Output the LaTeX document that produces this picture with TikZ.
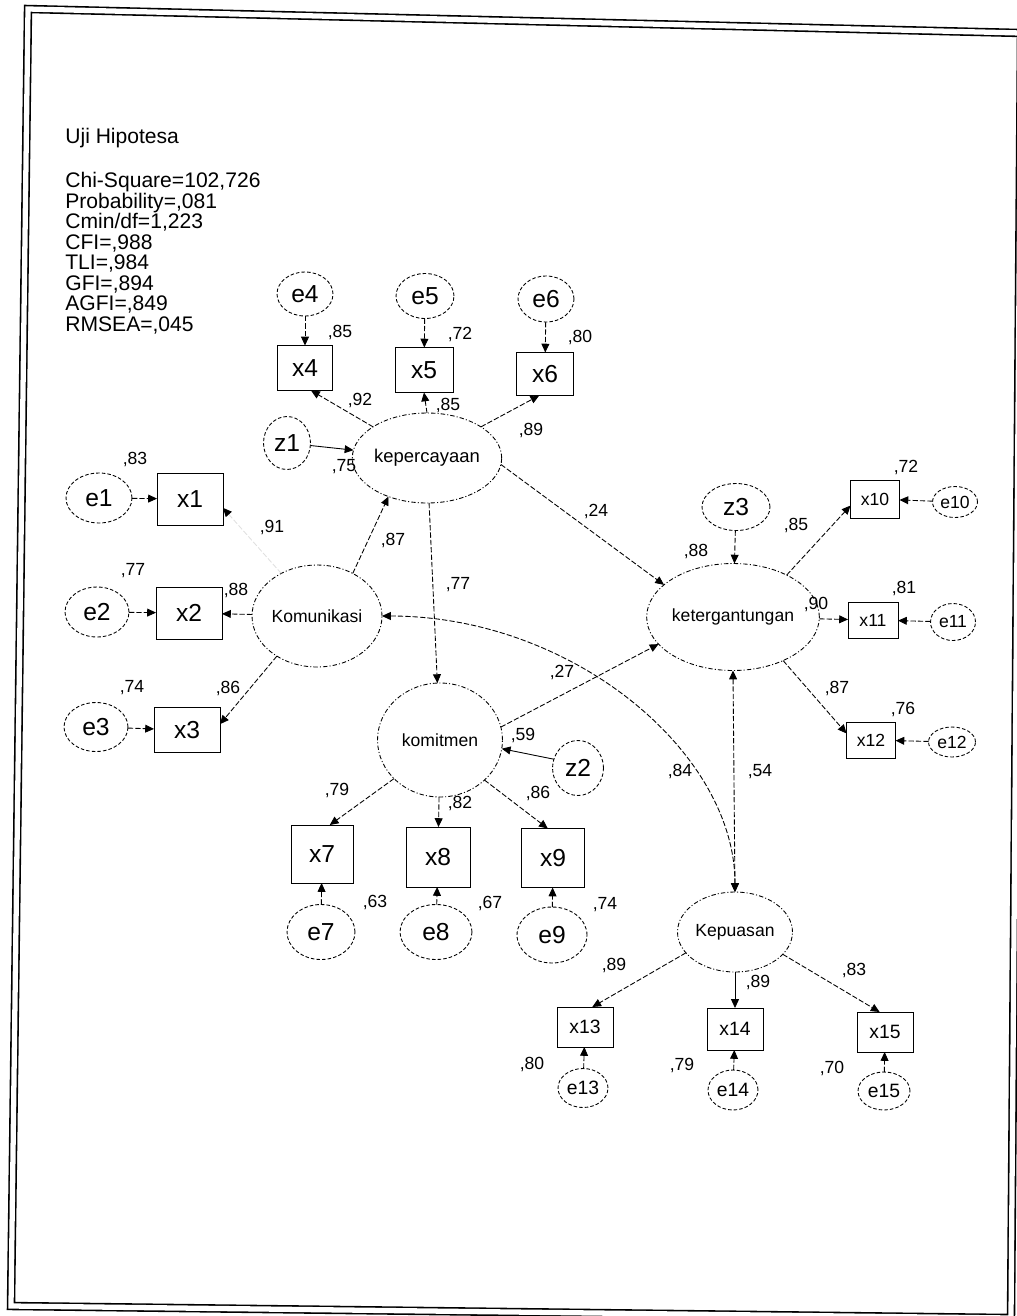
\documentclass[tikz,border=0pt]{standalone}
\usepackage{fontspec}
\setmainfont{Liberation Sans}
\usetikzlibrary{arrows.meta, shapes.geometric}

\begin{document}
\begin{tikzpicture}[
  x=0.02cm, y=-0.02cm,
  errnode/.style={ellipse, draw, line width=0.5pt, dash pattern=on 2pt off 1.2pt, inner sep=0pt, outer sep=0pt, font=\fontsize{14}{16}\selectfont},
  latent/.style={ellipse, draw, line width=0.5pt, dash pattern=on 2.5pt off 1.2pt on 0.6pt off 1.2pt, inner sep=0pt, outer sep=0pt, font=\fontsize{10}{12}\selectfont},
  obsbox/.style={rectangle, draw, line width=0.55pt, inner sep=0pt, outer sep=0pt, font=\fontsize{14}{16}\selectfont},
  smalltxt/.style={font=\fontsize{10}{12}\selectfont},
  midtxt/.style={font=\fontsize{11}{13}\selectfont},
  coef/.style={inner sep=0pt, font=\fontsize{10}{12}\selectfont},
  link/.style={-{Triangle[length=5pt,width=4.5pt]}, line width=0.5pt, dash pattern=on 3pt off 1.2pt},
  linkS/.style={-{Triangle[length=5pt,width=4.5pt]}, line width=0.5pt},
  corr/.style={{Triangle[length=5pt,width=4.5pt]}-{Triangle[length=5pt,width=4.5pt]}, line width=0.5pt, dash pattern=on 3pt off 1.2pt}
]
  \useasboundingbox (0,0) rectangle (1017,1316);

  % scanned double frame, slightly skewed like the page
  \draw[double, double distance=3pt, line width=0.9pt] (28,9) -- (1021,33) -- (1011,1318) -- (11,1306) -- cycle;

  % fit summary in the upper left corner
  \node[anchor=base west, inner sep=0pt, font=\fontsize{12}{14}\selectfont] (title) at (65,143) {Uji Hipotesa};
  \node[anchor=north west, align=left, inner sep=0pt, font=\fontsize{12}{11.7}\selectfont] (fitidx) at (65,172) {Chi-Square=102,726\\Probability=,081\\Cmin/df=1,223\\CFI=,988\\TLI=,984\\GFI=,894\\AGFI=,849\\RMSEA=,045};

  % latent variables
  \node[latent, minimum width=2.32cm, minimum height=1.8cm, font=\fontsize{10.5}{12}\selectfont] (kper) at (427,458) {kepercayaan};
  \node[latent, minimum width=2.6cm, minimum height=2.04cm] (kom) at (317,616) {Komunikasi};
  \node[latent, minimum width=2.5cm, minimum height=2.28cm] (komit) at (440,740) {komitmen};
  \node[latent, minimum width=3.2cm, minimum height=2.14cm] (keter) at (733,617) {ketergantungan};
  \node[latent, minimum width=2.3cm, minimum height=1.6cm] (kepu) at (735,932) {Kepuasan};

  % disturbances
  \node[errnode, minimum width=0.94cm, minimum height=1.06cm] (z1) at (287,443) {z1};
  \node[errnode, minimum width=1.02cm, minimum height=1.1cm] (z2) at (578,768) {z2};
  \node[errnode, minimum width=1.36cm, minimum height=0.94cm] (z3) at (736,507) {z3};

  % indicators of kepercayaan
  \node[errnode, minimum width=1.12cm, minimum height=0.88cm] (e4) at (305,294) {e4};
  \node[errnode, minimum width=1.16cm, minimum height=0.9cm] (e5) at (425,296) {e5};
  \node[errnode, minimum width=1.12cm, minimum height=0.92cm] (e6) at (546,299) {e6};
  \node[obsbox, minimum width=1.1cm, minimum height=0.9cm] (x4) at (305,368) {x4};
  \node[obsbox, minimum width=1.16cm, minimum height=0.9cm] (x5) at (424,370) {x5};
  \node[obsbox, minimum width=1.14cm, minimum height=0.86cm] (x6) at (545,374) {x6};

  % indicators of Komunikasi
  \node[errnode, minimum width=1.32cm, minimum height=1.0cm] (e1) at (99,498) {e1};
  \node[errnode, minimum width=1.28cm, minimum height=1.0cm] (e2) at (97,612) {e2};
  \node[errnode, minimum width=1.28cm, minimum height=0.98cm] (e3) at (96,727) {e3};
  \node[obsbox, minimum width=1.32cm, minimum height=1.04cm] (x1) at (190,499) {x1};
  \node[obsbox, minimum width=1.32cm, minimum height=1.04cm] (x2) at (189,613) {x2};
  \node[obsbox, minimum width=1.32cm, minimum height=0.9cm] (x3) at (187,730) {x3};

  % indicators of komitmen
  \node[obsbox, minimum width=1.24cm, minimum height=1.16cm] (x7) at (322,854) {x7};
  \node[obsbox, minimum width=1.28cm, minimum height=1.2cm] (x8) at (438,857) {x8};
  \node[obsbox, minimum width=1.26cm, minimum height=1.18cm] (x9) at (553,858) {x9};
  \node[errnode, minimum width=1.36cm, minimum height=1.1cm] (e7) at (321,932) {e7};
  \node[errnode, minimum width=1.44cm, minimum height=1.1cm] (e8) at (436,932) {e8};
  \node[errnode, minimum width=1.4cm, minimum height=1.12cm] (e9) at (552,935) {e9};

  % indicators of ketergantungan
  \node[obsbox, smalltxt, minimum width=0.98cm, minimum height=0.76cm] (x10) at (875,499) {x10};
  \node[obsbox, smalltxt, minimum width=1.0cm, minimum height=0.72cm] (x11) at (873,620) {x11};
  \node[obsbox, smalltxt, minimum width=0.98cm, minimum height=0.72cm] (x12) at (871,740) {x12};
  \node[errnode, smalltxt, minimum width=0.9cm, minimum height=0.62cm] (e10) at (955,502) {e10};
  \node[errnode, smalltxt, minimum width=0.9cm, minimum height=0.74cm] (e11) at (953,622) {e11};
  \node[errnode, smalltxt, minimum width=0.94cm, minimum height=0.6cm] (e12) at (952,742) {e12};

  % indicators of Kepuasan
  \node[obsbox, midtxt, minimum width=1.12cm, minimum height=0.8cm] (x13) at (585,1027) {x13};
  \node[obsbox, midtxt, minimum width=1.12cm, minimum height=0.84cm] (x14) at (735,1029) {x14};
  \node[obsbox, midtxt, minimum width=1.12cm, minimum height=0.8cm] (x15) at (885,1032) {x15};
  \node[errnode, midtxt, minimum width=1.0cm, minimum height=0.78cm] (e13) at (583,1088) {e13};
  \node[errnode, midtxt, minimum width=1.0cm, minimum height=0.8cm] (e14) at (733,1090) {e14};
  \node[errnode, midtxt, minimum width=1.04cm, minimum height=0.76cm] (e15) at (884,1091) {e15};

  % error terms point into their indicators
  \foreach \i in {1,...,15}
    \draw[link] (e\i) -- (x\i);

  % loadings
  \draw[link] (kper.150) -- (x4.-75);
  \draw[link] (kper.north) -- (x5.south);
  \draw[link] (kper.30) -- (x6.-105);
  \draw[link, draw=black!12, -{Triangle[length=5pt,width=4.5pt,color=black]}] (kom.130) -- (x1.-15);
  \draw[link] (kom) -- (x2);
  \draw[link] (kom.225) -- (x3.10);
  \draw[link] (komit.220) -- (x7.75);
  \draw[link] (komit) -- (x8);
  \draw[link] (komit.-42) -- (x9.100);
  \draw[link] (keter.38) -- (x10.195);
  \draw[link] (keter) -- (x11);
  \draw[link] (keter.-41) -- (x12.165);
  \draw[link] (kepu.203) -- (x13.70);
  \draw[linkS] (kepu) -- (x14);
  \draw[link] (kepu.-25) -- (x15.105);

  % structural paths
  \draw[linkS] (z1) -- (kper);
  \draw[linkS] (z2.160) -- (komit.-8);
  \draw[link] (z3) -- (keter);
  \draw[link] (kom.50) -- (kper.225);
  \draw[link] (kper) -- (komit);
  \draw[link] (kper.-5) -- (keter.155);
  \draw[link] (komit.12) -- (keter.200);
  \draw[corr] (keter.south) -- (kepu.north);
  \draw[corr] (kom.east) .. controls +(190,0) and +(0,-140) .. (kepu.north);

  % estimates
  \node[coef] (r4) at (340,332) {,85};
  \node[coef] (r5) at (460,334) {,72};
  \node[coef] (r6) at (580,337) {,80};
  \node[coef] (l4) at (360,400) {,92};
  \node[coef] (l5) at (448,405) {,85};
  \node[coef] (l6) at (531,430) {,89};
  \node[coef] (rkper) at (344,467) {,75};
  \node[coef] (r1) at (135,459) {,83};
  \node[coef] (l1) at (272,527) {,91};
  \node[coef] (bkom) at (393,540) {,87};
  \node[coef] (r2) at (133,571) {,77};
  \node[coef] (l2) at (236,590) {,88};
  \node[coef] (r3) at (132,688) {,74};
  \node[coef] (l3) at (228,688) {,86};
  \node[coef] (bkper) at (596,511) {,24};
  \node[coef] (bkomit) at (458,585) {,77};
  \node[coef] (rketer) at (696,551) {,88};
  \node[coef] (l10) at (796,525) {,85};
  \node[coef] (r10) at (906,467) {,72};
  \node[coef] (l11) at (816,604) {,90};
  \node[coef] (r11) at (904,588) {,81};
  \node[coef] (l12) at (837,688) {,87};
  \node[coef] (r12) at (903,709) {,76};
  \node[coef] (cketer) at (760,772) {,54};
  \node[coef] (ckom) at (680,771) {,84};
  \node[coef] (bkomit2) at (562,672) {,27};
  \node[coef] (rkomit) at (523,735) {,59};
  \node[coef] (l7) at (337,790) {,79};
  \node[coef] (l8) at (460,803) {,82};
  \node[coef] (l9) at (538,793) {,86};
  \node[coef] (r7) at (375,902) {,63};
  \node[coef] (r8) at (490,903) {,67};
  \node[coef] (r9) at (605,905) {,74};
  \node[coef] (l13) at (614,965) {,89};
  \node[coef] (l14) at (758,982) {,89};
  \node[coef] (l15) at (854,970) {,83};
  \node[coef] (r13) at (532,1064) {,80};
  \node[coef] (r14) at (682,1065) {,79};
  \node[coef] (r15) at (832,1068) {,70};
\end{tikzpicture}
\end{document}
